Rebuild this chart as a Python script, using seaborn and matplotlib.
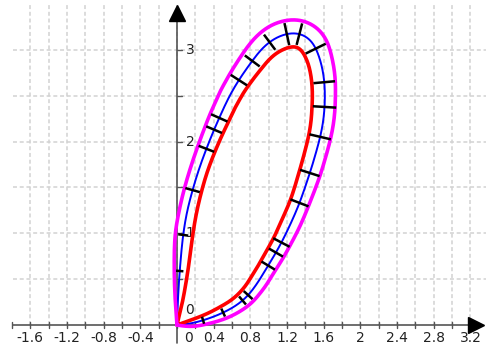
import numpy as np
import matplotlib
matplotlib.use("Agg")
import matplotlib.pyplot as plt
import seaborn as sns

# ---- data ----
# centre (blue) curve, from the origin up the left branch, over the top
# and back down to the origin
curve_x = [0.000, 0.009, 0.030, 0.067, 0.108, 0.169, 0.239, 0.321, 0.407, 0.463,
           0.516, 0.572, 0.623, 0.675, 0.748, 0.821, 0.907, 0.993, 1.094, 1.207,
           1.307, 1.393, 1.470, 1.520, 1.564, 1.593, 1.608, 1.613, 1.608, 1.592,
           1.561, 1.509, 1.451, 1.337, 1.243, 1.138, 1.065, 0.993, 0.889, 0.820,
           0.769, 0.703, 0.613, 0.507, 0.397, 0.283, 0.167, 0.088, 0.000]
curve_y = [0.000, 0.250, 0.589, 0.977, 1.224, 1.467, 1.696, 1.922, 2.135, 2.263,
           2.380, 2.494, 2.586, 2.671, 2.779, 2.880, 2.990, 3.073, 3.138, 3.177,
           3.182, 3.154, 3.090, 3.003, 2.881, 2.754, 2.635, 2.495, 2.355, 2.206,
           2.049, 1.856, 1.665, 1.334, 1.113, 0.897, 0.766, 0.646, 0.476, 0.378,
           0.317, 0.256, 0.193, 0.137, 0.090, 0.051, 0.020, 0.009, 0.000]
# distance from the blue curve to the red (inner) and magenta (outer) curves
inner_w = [0.000, 0.050, 0.088, 0.103, 0.103, 0.098, 0.095, 0.098, 0.104, 0.109,
           0.109, 0.115, 0.115, 0.120, 0.125, 0.131, 0.136, 0.142, 0.147, 0.147,
           0.147, 0.147, 0.147, 0.142, 0.136, 0.136, 0.136, 0.136, 0.136, 0.131,
           0.125, 0.120, 0.115, 0.104, 0.104, 0.098, 0.098, 0.093, 0.093, 0.087,
           0.087, 0.082, 0.076, 0.071, 0.060, 0.049, 0.038, 0.022, 0.000]
outer_w = [0.000, 0.027, 0.060, 0.087, 0.087, 0.091, 0.093, 0.098, 0.104, 0.109,
           0.109, 0.115, 0.115, 0.120, 0.125, 0.131, 0.136, 0.142, 0.147, 0.147,
           0.147, 0.147, 0.147, 0.142, 0.131, 0.125, 0.120, 0.115, 0.115, 0.115,
           0.115, 0.115, 0.115, 0.104, 0.104, 0.098, 0.098, 0.093, 0.093, 0.087,
           0.087, 0.082, 0.076, 0.071, 0.060, 0.049, 0.038, 0.022, 0.000]
# black normal ticks on the blue curve: position and half length
tick_x = [0.033, 0.065, 0.174, 0.327, 0.414, 0.469, 0.669, 0.818, 1.020, 1.200,
          1.330, 1.505, 1.614, 1.622, 1.559, 1.450, 1.341, 1.145, 1.069, 0.981,
          0.774, 0.709, 0.502, 0.284]
tick_y = [0.589, 0.981, 1.472, 1.919, 2.127, 2.257, 2.672, 2.879, 3.070, 3.162,
          3.162, 3.010, 2.650, 2.377, 2.050, 1.658, 1.330, 0.894, 0.796, 0.654,
          0.327, 0.273, 0.142, 0.055]
tick_len = [0.040, 0.055, 0.082, 0.091, 0.093, 0.098, 0.106, 0.101, 0.103, 0.123,
            0.121, 0.122, 0.118, 0.128, 0.120, 0.112, 0.106, 0.101, 0.089, 0.086,
            0.065, 0.058, 0.048, 0.040]

xtick_vals = [-1.6, -1.2, -0.8, -0.4, 0, 0.4, 0.8, 1.2, 1.6, 2, 2.4, 2.8, 3.2]
xtick_labels = ["-1.6", "-1.2", "-0.8", "-0.4", "0", "0.4", "0.8", "1.2", "1.6",
                "2", "2.4", "2.8", "3.2"]
ytick_vals = [0, 1, 2, 3]
ytick_labels = ["0", "1", "2", "3"]


def smooth_path(pts, n=14, alpha=0.5):
    """Centripetal Catmull-Rom rendering through the given points."""
    pts = np.asarray(pts, float)
    ext = np.vstack([2 * pts[0] - pts[1], pts, 2 * pts[-1] - pts[-2]])
    out = []
    for i in range(1, len(ext) - 2):
        p0, p1, p2, p3 = ext[i - 1:i + 3]
        def nxt(t, a, b):
            return t + max(np.linalg.norm(b[:2] - a[:2]), 1e-9) ** alpha
        t0 = 0.0
        t1 = nxt(t0, p0, p1)
        t2 = nxt(t1, p1, p2)
        t3 = nxt(t2, p2, p3)
        t = np.linspace(t1, t2, n, endpoint=False)[:, None]
        a1 = (t1 - t) / (t1 - t0) * p0 + (t - t0) / (t1 - t0) * p1
        a2 = (t2 - t) / (t2 - t1) * p1 + (t - t1) / (t2 - t1) * p2
        a3 = (t3 - t) / (t3 - t2) * p2 + (t - t2) / (t3 - t2) * p3
        b1 = (t2 - t) / (t2 - t0) * a1 + (t - t0) / (t2 - t0) * a2
        b2 = (t3 - t) / (t3 - t1) * a2 + (t - t1) / (t3 - t1) * a3
        out.append((t2 - t) / (t2 - t1) * b1 + (t - t1) / (t2 - t1) * b2)
    out.append(pts[-1][None, :])
    return np.vstack(out)


def resample(path, step):
    seg = np.hypot(*np.diff(path[:, :2], axis=0).T)
    s = np.concatenate([[0.0], np.cumsum(seg)])
    su = np.linspace(0, s[-1], int(s[-1] / step) + 1)
    return np.column_stack([np.interp(su, s, path[:, k])
                            for k in range(path.shape[1])])


def soften(path, sigma):
    n = len(path)
    out = path.copy()
    r = int(3 * sigma)
    for i in range(n):
        h = min(r, i, n - 1 - i)
        idx = np.arange(i - h, i + h + 1)
        wts = np.exp(-0.5 * ((idx - i) / sigma) ** 2)
        out[i] = (wts[:, None] * path[idx]).sum(0) / wts.sum()
    return out


# ---- figure ----
sns.set_theme(style="white")
plt.rcParams["font.family"] = ["DejaVu Sans"]

fig = plt.figure(figsize=(4.86, 3.52), dpi=100)
ax = fig.add_axes([0, 0, 1, 1])
ax.set_xlim(-1.93, 3.37)
ax.set_ylim(-0.294, 3.544)
ax.axis("off")

gcol = "#d2d2d2"
dash = (0, (2.6, 1.8))
ax.vlines(np.arange(-1.6, 3.21, 0.2), 0, 3.49, colors=gcol, linestyles=dash,
          lw=1.1, zorder=0)
ax.hlines(np.arange(0.5, 3.01, 0.5), -1.79, 3.37, colors=gcol, linestyles=dash,
          lw=1.1, zorder=0)

# axes with arrows
acol = "#555555"
ax.plot([-1.79, 3.25], [0, 0], color=acol, lw=1.2, zorder=1)
ax.plot([0, 0], [-0.2, 3.41], color=acol, lw=1.2, zorder=1)
ax.plot(3.26, 0, marker=">", ms=11, color="black", zorder=2, clip_on=False)
ax.plot(0, 3.40, marker="^", ms=11, color="black", zorder=2, clip_on=False)
for xv in np.arange(-1.8, 3.21, 0.2):
    ax.plot([xv, xv], [-0.028, 0.028], color=acol, lw=1.0, zorder=1)
for yv in np.arange(0.5, 3.01, 0.5):
    ax.plot([0, 0.055], [yv, yv], color=acol, lw=1.0, zorder=1)

tcol = "#222222"
for v, lab in zip(xtick_vals, xtick_labels):
    xx = 0.13 if v == 0 else v
    ax.text(xx, -0.142, lab, ha="center", va="center", fontsize=10, color=tcol,
            zorder=1)
for v, lab in zip(ytick_vals, ytick_labels):
    yy = 0.164 if v == 0 else v
    ax.text(0.142, yy, lab, ha="center", va="center", fontsize=10, color=tcol,
            zorder=1)

# ---- curves ----
dense = smooth_path(np.column_stack([curve_x, curve_y, inner_w, outer_w]))
dense = soften(resample(dense, 0.005), 10)
P = dense[:, :2]
Wi = np.clip(dense[:, 2], 0, None)
Wo = np.clip(dense[:, 3], 0, None)
T = np.gradient(P, axis=0)
T /= np.linalg.norm(T, axis=1)[:, None]
N = np.column_stack([-T[:, 1], T[:, 0]])  # outward normal
outer = P + Wo[:, None] * N
inner = P - Wi[:, None] * N

sns.lineplot(x=P[:, 0], y=P[:, 1], sort=False, estimator=None, color="#0000ff",
             lw=1.4, ax=ax, zorder=3)
sns.lineplot(x=inner[:, 0], y=inner[:, 1], sort=False, estimator=None,
             color="#ff0000", lw=2.6, ax=ax, zorder=4)
sns.lineplot(x=outer[:, 0], y=outer[:, 1], sort=False, estimator=None,
             color="#ff00ff", lw=2.6, ax=ax, zorder=4)

# normal ticks
for qx, qy, ln in zip(tick_x, tick_y, tick_len):
    j = int(np.argmin(np.hypot(P[:, 0] - qx, P[:, 1] - qy)))
    n = N[j]
    ax.plot([P[j, 0] - ln * n[0], P[j, 0] + ln * n[0]],
            [P[j, 1] - ln * n[1], P[j, 1] + ln * n[1]],
            color="black", lw=1.8, zorder=5, solid_capstyle="butt")

fig.savefig("out.png", dpi=100)
